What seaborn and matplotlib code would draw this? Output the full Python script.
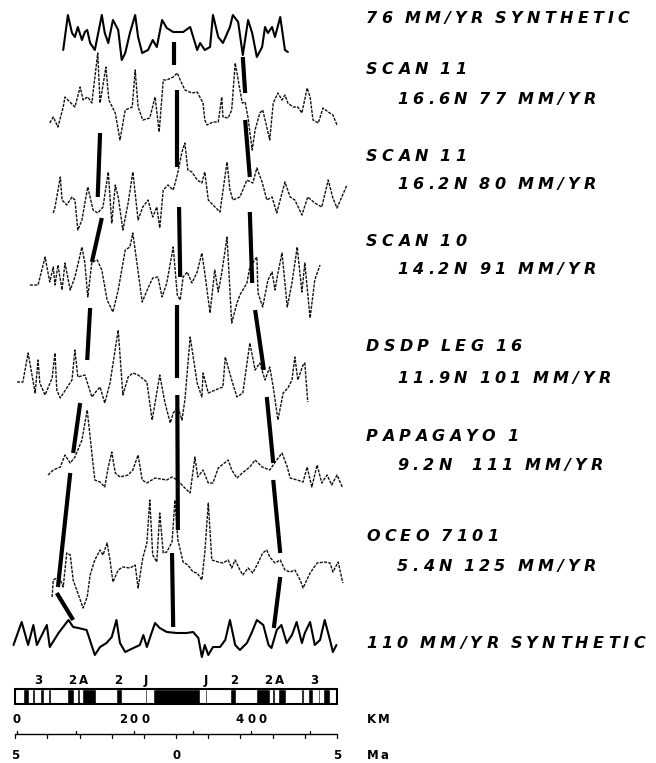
import numpy as np
import pandas as pd
import matplotlib
matplotlib.use("Agg")
import matplotlib.pyplot as plt
import matplotlib.transforms as mtransforms
from matplotlib.patches import Rectangle
import seaborn as sns

sns.set_theme(style="white")
plt.rcParams['font.family'] = ['DejaVu Sans']

W, H, DPI = 656, 763, 100

# ---- profiles: distance (km) and anomaly (plot units, + up) ----
syn76_km = [79, 87, 94, 99, 104, 111, 116, 120, 125, 133, 145, 150, 156, 164, 173, 179, 185, 193, 202, 207,
            214, 224, 232, 239, 248, 256, 267, 284, 296, 308, 313, 321, 330, 335, 344, 352, 364, 369, 378, 386,
            395, 402, 410, 419, 424, 429, 436, 441, 450, 458, 463]
syn76_val = [-10, 25, 7, 3, 13, 0, 8, 10, -3, -10, 25, 7, -3, 20, 10, -20, -13, 7, 25, 3,
             -13, -10, 0, -7, 20, 12, 8, 8, 13, -10, -3, -10, -7, 25, 3, -3, 13, 25, 18, -15,
             20, 7, -17, -7, 13, 7, 13, 3, 23, -10, -12]

scan11a_km = [56, 62, 70, 79, 82, 87, 99, 108, 113, 121, 128, 138, 142, 152, 157, 168, 176, 185, 197, 202,
              207, 215, 227, 236, 243, 250, 256, 267, 274, 279, 287, 299, 308, 318, 321, 325, 335, 344, 350, 352,
              361, 367, 373, 385, 390, 395, 402, 407, 415, 420, 427, 432, 438, 446, 453, 458, 463, 472, 480, 487,
              496, 501, 506, 515, 523, 532, 540, 547]
scan11a_val = [-13, -7, -17, 3, 13, 10, 3, 23, 10, 13, 7, 57, 7, 43, 10, -3, -30, 0, 3, 40,
               3, -10, -8, 13, -22, 30, 30, 33, 37, 30, 20, 17, 18, 7, -10, -15, -12, -12, 13, -7,
               -8, 0, 47, 7, 8, -8, -40, -20, -3, 0, -17, -30, 7, 17, 10, 15, 7, 3, 3, -3,
               22, 13, -10, -13, 2, -2, -5, -15]

scan11b_km = [62, 65, 74, 77, 85, 94, 99, 104, 111, 116, 121, 130, 138, 147, 156, 162, 168, 173, 181, 190,
              198, 207, 215, 224, 232, 239, 244, 250, 258, 267, 274, 282, 287, 292, 299, 308, 316, 321, 327, 335,
              347, 359, 364, 369, 381, 393, 403, 410, 419, 427, 436, 444, 453, 458, 467, 475, 487, 497, 509, 521,
              532, 540, 547, 564]
scan11b_val = [-18, -12, 18, -5, -10, -2, -5, -35, -25, -8, 8, -15, -18, -12, 23, -28, 10, -2, -35, -8,
               23, -25, -12, -5, -22, -12, -33, 5, 10, 5, 20, 43, 52, 25, 23, 15, 12, 23, -5, -10,
               -17, 33, 5, -5, -2, 15, 12, 27, 13, -5, -2, -18, 2, 13, -2, -5, -20, -2, -8, -12,
               15, -3, -13, 10]

scan10_km = [22, 36, 48, 56, 62, 65, 70, 77, 82, 91, 99, 111, 116, 121, 128, 137, 145, 154, 164, 173,
             185, 193, 198, 205, 214, 224, 232, 241, 248, 256, 267, 274, 279, 284, 291, 299, 308, 316, 321, 330,
             338, 344, 350, 359, 367, 376, 381, 393, 398, 410, 412, 420, 429, 436, 441, 446, 453, 462, 470, 479,
             487, 492, 501, 509, 518]
scan10_val = [-5, -5, 23, -2, 13, -5, 15, -10, 17, -10, 3, 33, 17, -17, 18, 20, 10, -20, -32, -10,
              30, 33, 47, 17, -22, -8, 2, 3, -17, -3, 33, -15, -20, 3, 8, -3, 8, 27, 7, -33,
              10, -12, 7, 43, -43, -23, -15, -3, 13, 23, -13, -27, 0, 8, -10, 7, 27, -27, -3, 33,
              -12, 17, -38, 0, 15]

dsdp_km = [0, 10, 19, 31, 36, 39, 48, 60, 65, 68, 74, 85, 94, 99, 104, 116, 128, 133, 142, 150,
           159, 173, 181, 190, 198, 207, 222, 231, 236, 244, 253, 262, 267, 275, 282, 287, 296, 308, 316, 318,
           327, 347, 352, 356, 367, 376, 386, 398, 407, 415, 424, 432, 438, 446, 455, 463, 470, 475, 480, 489,
           492, 497]
dsdp_val = [3, 3, 32, -8, 25, 2, -10, 7, 32, -5, -13, -3, 5, 35, 8, 10, -12, -8, -2, -18,
            2, 55, -10, 8, 12, 10, 3, -35, -18, 10, -18, -38, -28, -22, -35, -15, 48, 2, -12, 12,
            -8, -3, -2, 28, 5, -12, -8, 42, 15, 22, 5, 18, -2, -35, -8, -3, 5, 28, 5, 20,
            22, -17]

papagayo_km = [53, 62, 74, 82, 91, 99, 111, 120, 133, 142, 150, 156, 162, 168, 176, 190, 198, 207, 214, 222,
               236, 256, 265, 274, 287, 296, 304, 309, 318, 327, 335, 344, 361, 367, 376, 385, 398, 407, 419, 432,
               444, 453, 462, 467, 479, 489, 496, 504, 513, 521, 530, 538, 547, 556]
papagayo_val = [-3, 2, 5, 17, 9, 15, 32, 62, -8, -10, -15, 5, 20, -1, -5, -3, 2, 17, -8, -11,
                -6, -8, -5, -8, -16, -21, 15, -5, 2, -11, -11, 4, 12, 2, -6, -1, 5, 12, 5, 2,
                12, 19, 5, -6, -8, -10, 5, -15, 7, -11, -3, -13, -3, -15]

oceo_km = [60, 62, 68, 74, 79, 85, 91, 96, 113, 120, 125, 133, 142, 147, 154, 159, 164, 173, 181, 193,
           202, 207, 215, 222, 227, 232, 239, 244, 250, 256, 265, 270, 275, 284, 292, 301, 308, 316, 321, 327,
           333, 344, 352, 361, 367, 373, 381, 386, 395, 403, 412, 420, 427, 432, 441, 450, 458, 467, 475, 484,
           489, 501, 513, 526, 535, 540, 549, 557]
oceo_val = [-34, -17, -15, -17, -24, 10, 8, -17, -45, -34, -12, 3, 13, 8, 20, 3, -19, -7, -4, -5,
            -2, -25, 5, 20, 63, 8, 1, 50, 10, 11, 21, 63, 23, 1, -2, -9, -10, -17, 10, 60,
            3, 1, 0, 3, -5, 3, -7, -12, -5, -10, 0, 10, 13, 6, 0, 3, -7, -9, -7, -17,
            -25, -10, 0, 1, 0, -9, 1, -20]

syn110_km = [-6, 8, 19, 28, 34, 51, 56, 71, 88, 96, 105, 119, 133, 142, 153, 162, 170, 176, 185, 199,
             210, 216, 222, 230, 236, 244, 256, 273, 290, 301, 310, 316, 321, 327, 335, 347, 356, 364, 373, 381,
             393, 401, 410, 421, 430, 435, 444, 452, 461, 470, 478, 487, 492, 501, 509, 518, 526, 535, 540, 546]
syn110_val = [-5, 18, -5, 15, -5, 15, -7, 7, 20, 13, 12, 10, -15, -7, -3, 3, 20, -3, -12, -8,
              -5, 5, -7, 7, 17, 12, 8, 7, 7, 8, 2, -17, -5, -15, -7, -7, 0, 20, -5, -10,
              -3, 7, 20, 15, -5, -8, 10, 15, -3, 5, 18, -3, 7, 18, -5, 0, 20, 0, -12, -5]

profile_km = [syn76_km, scan11a_km, scan11b_km, scan10_km, dsdp_km, papagayo_km, oceo_km, syn110_km]
profile_val = [syn76_val, scan11a_val, scan11b_val, scan10_val, dsdp_val, papagayo_val, oceo_val, syn110_val]
synthetic = [True, False, False, False, False, False, False, True]

label_line1 = ["76 MM/YR SYNTHETIC", "SCAN 11", "SCAN 11", "SCAN 10", "DSDP LEG 16",
               "PAPAGAYO 1", "OCEO 7101", "110 MM/YR SYNTHETIC"]
label_line2 = ["", "16.6N 77 MM/YR", "16.2N 80 MM/YR", "14.2N 91 MM/YR", "11.9N 101 MM/YR",
               "9.2N  111 MM/YR", "5.4N 125 MM/YR", ""]

# correlation lines: segments (km top, depth top, km bottom, depth bottom)
center_ties = [(268, 42, 268, 65), (274, 90, 274, 167), (277, 207, 279, 277),
               (274, 305, 274, 378), (274, 395, 275, 530), (265, 553, 267, 627)]
left_ties = [(142, 133, 138, 197), (145, 218, 128, 262), (125, 308, 120, 360),
             (108, 403, 96, 453), (91, 473, 70, 587), (68, 593, 96, 620)]
right_ties = [(386, 57, 390, 93), (390, 120, 398, 177), (398, 212, 402, 283),
              (407, 310, 422, 370), (427, 397, 438, 463), (438, 480, 450, 553), (450, 577, 439, 628)]

# polarity time scale (normal intervals, Ma)
normal_ma = [(0.90, 0.97), (1.67, 1.87), (2.01, 2.04), (2.48, 2.92), (2.99, 3.08),
             (3.18, 3.40), (3.88, 3.97), (4.10, 4.24), (4.40, 4.47), (4.57, 4.77)]
brunhes_ma = 0.73
chron_labels = ["3", "2A", "2", "J"]
chron_ages = [4.3, 3.05, 1.8, 0.93]
ridge_km = 272
half_rate = 55.0   # km/Ma
km_ticks = [0, 200, 400]
ma_ticks = [5, 0, 5]

# ---- layout ----
tracks = [40, 110, 195, 280, 385, 472, 563, 640]   # depth of each profile baseline
label_rows = [(23, None), (74, 104), (161, 189), (246, 274), (351, 383), (441, 470), (541, 571), (648, None)]

fig = plt.figure(figsize=(W / DPI, H / DPI), dpi=DPI)
ax = fig.add_axes([0, 0, 1, 1])
ax.set_xlim(-29.06, 1092.3)
ax.set_ylim(-H, 0)
ax.axis('off')

rows = []
for i, (xs, vs) in enumerate(zip(profile_km, profile_val)):
    for x, v in zip(xs, vs):
        rows.append({"km": x, "y": -tracks[i] + v, "profile": i})
df = pd.DataFrame(rows)
for i in range(len(tracks)):
    sub = df[df.profile == i]
    if synthetic[i]:
        sns.lineplot(data=sub, x="km", y="y", ax=ax, color="black", lw=1.5,
                     estimator=None, sort=False, solid_joinstyle="round")
    else:
        sns.lineplot(data=sub, x="km", y="y", ax=ax, color="#111111", lw=1.0,
                     linestyle=(0, (2.2, 0.9)), estimator=None, sort=False)

seg_rows = []
for name, ties in [("c", center_ties), ("l", left_ties), ("r", right_ties)]:
    for j, (x0, d0, x1, d1) in enumerate(ties):
        seg_rows.append({"km": x0, "y": -d0, "seg": f"{name}{j}"})
        seg_rows.append({"km": x1, "y": -d1, "seg": f"{name}{j}"})
seg_df = pd.DataFrame(seg_rows)
sns.lineplot(data=seg_df, x="km", y="y", units="seg", estimator=None, sort=False,
             ax=ax, color="black", lw=3.0, solid_capstyle="butt")

# polarity bar
bar_top, bar_bot = -689, -704
left_end = ridge_km - 5 * half_rate
right_end = ridge_km + 5 * half_rate
blocks = [(ridge_km - brunhes_ma * half_rate, 2 * brunhes_ma * half_rate)]
for a, b in normal_ma:
    blocks.append((ridge_km + a * half_rate, (b - a) * half_rate))
    blocks.append((ridge_km - b * half_rate, (b - a) * half_rate))
ax.broken_barh(blocks, (bar_bot, bar_top - bar_bot), facecolors="black")
ax.add_patch(Rectangle((left_end, bar_bot), right_end - left_end, bar_top - bar_bot,
                       fill=False, edgecolor="black", lw=1.5))

# km / Ma axis line
axis_y = -734
ax.plot([left_end, right_end], [axis_y, axis_y], color="black", lw=1.0)
for k in range(-5, 6):
    xk = ridge_km + k * half_rate
    ax.plot([xk, xk], [axis_y, axis_y - 4], color="black", lw=0.9)
for k in range(0, 600, 100):
    ax.plot([k, k], [axis_y, axis_y + 3], color="black", lw=0.9)

ax.set_xlabel("")
ax.set_ylabel("")
if ax.get_legend():
    ax.get_legend().remove()

# ---- text with wide letter spacing ----
renderer = fig.canvas.get_renderer()
ident = mtransforms.IdentityTransform()


def char_w(ch, size, weight, style):
    if ch == " ":
        return 0.2 * size * DPI / 72
    t = fig.text(0, 0, ch, fontsize=size, fontweight=weight, fontstyle=style)
    w = t.get_window_extent(renderer).width
    t.remove()
    return w


def spaced(x, y_top, s, size=11, track=4.5, ha="left", weight="bold", style="oblique"):
    widths = [char_w(c, size, weight, style) for c in s]
    total = sum(widths) + track * (len(s) - 1)
    if ha == "center":
        x -= total / 2
    for c, w in zip(s, widths):
        if c != " ":
            fig.text(x, H - y_top, c, fontsize=size, fontweight=weight, fontstyle=style,
                     va="baseline", ha="left", color="black", transform=ident)
        x += w + track


def data_px(km):
    return ax.transData.transform((km, 0))[0]


# tracking chosen so the longest label spans its width in the reference
lab_size = 11.5
ref_widths = [char_w(c, lab_size, "bold", "oblique") for c in label_line1[-1]]
lab_track = (279 - sum(ref_widths)) / (len(label_line1[-1]) - 1)

for i, (r1, r2) in enumerate(label_rows):
    spaced(366, r1, label_line1[i], size=lab_size, track=lab_track)
    if r2 is not None:
        spaced(397, r2, label_line2[i], size=lab_size, track=lab_track)

small = dict(size=8.5, track=3, style="normal")
for lab, age in zip(chron_labels, chron_ages):
    spaced(data_px(ridge_km - age * half_rate), 684, lab, ha="center", **small)
    spaced(data_px(ridge_km + age * half_rate), 684, lab, ha="center", **small)

for k in km_ticks:
    spaced(data_px(k), 723, str(k), ha="center", **small)
for m, side in zip(ma_ticks, [-1, 0, 1]):
    spaced(data_px(ridge_km + side * m * half_rate), 759, str(m), ha="center", **small)
spaced(367, 723, "KM", size=8.5, track=2, style="normal")
spaced(367, 759, "Ma", size=8.5, track=2, style="normal")

fig.savefig("out.png", dpi=DPI, facecolor="white")
